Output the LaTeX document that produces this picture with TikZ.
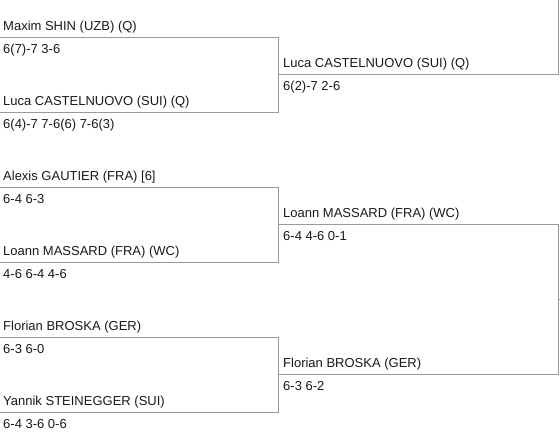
\documentclass[tikz,border=0pt]{standalone}
\usepackage{fontspec}
\setmainfont{Liberation Sans}
\usepackage{tikz}
\usetikzlibrary{positioning}
\usetikzlibrary{calc}
\tikzstyle{player}=[anchor=base west,inner sep=0pt,font=\fontsize{13}{15}\selectfont,text=black!90]
\tikzstyle{score}=[player]
\tikzstyle{bracketline} = [draw,line width=1pt,black!40]

\begin{document}
\begin{tikzpicture}[x=1pt,y=-1pt]
\useasboundingbox (0,0) rectangle (560,436);

    % First round: names above the line, scores below
    \def\dx{0};
    \foreach \y/\name/\label/\res in {37.5/A1/{Maxim SHIN (UZB) (Q)}/{6(7)-7 3-6}, 112.5/A2/{Luca CASTELNUOVO (SUI) (Q)}/{6(4)-7 7-6(6) 7-6(3)}, 187.5/A3/{Alexis GAUTIER (FRA) [6]}/{6-4 6-3}, 262.5/A4/{Loann MASSARD (FRA) (WC)}/{4-6 6-4 4-6}, 337.5/A5/{Florian BROSKA (GER)}/{6-3 6-0}, 412.5/A6/{Yannik STEINEGGER (SUI)}/{6-4 3-6 0-6}}
    {
        \node[player] (\name) at (3+\dx,\y-7) {\label};
        \node[score] (\name s) at (3+\dx,\y+16) {\res};
        \coordinate (\name l) at (0+\dx,\y);
        \coordinate (\name r) at (278+\dx,\y);
    }

    % Connect the pairs
  \foreach \source/ \dest in {A1/A2, A3/A4, A5/A6}
          \path[bracketline] (\source l) -- (\source r) -- (\dest r) -- (\dest l);

    % Second round
    \def\dx{278};
    \foreach \y/\name/\label/\res in {74.5/B1/{Luca CASTELNUOVO (SUI) (Q)}/{6(2)-7 2-6}, 224.5/B2/{Loann MASSARD (FRA) (WC)}/{6-4 4-6 0-1}, 374.5/B3/{Florian BROSKA (GER)}/{6-3 6-2}}
    {
        \node[player] (\name) at (5+\dx,\y-7) {\label};
        \node[score] (\name s) at (5+\dx,\y+16) {\res};
        \coordinate (\name l) at (0+\dx,\y);
        \coordinate (\name r) at (280+\dx,\y);
    }
    \coordinate (B0r) at (558,0);
    \coordinate (C2l) at (558,299.5);
    \coordinate (C2r) at (560,299.5);

  \path[bracketline] (B1l) -- (B1r) -- (B0r);
  \path[bracketline] (B2l) -- (B2r) -- (B3r) -- (B3l);
  \path[bracketline] (C2l) -- (C2r);

\end{tikzpicture}
\end{document}
